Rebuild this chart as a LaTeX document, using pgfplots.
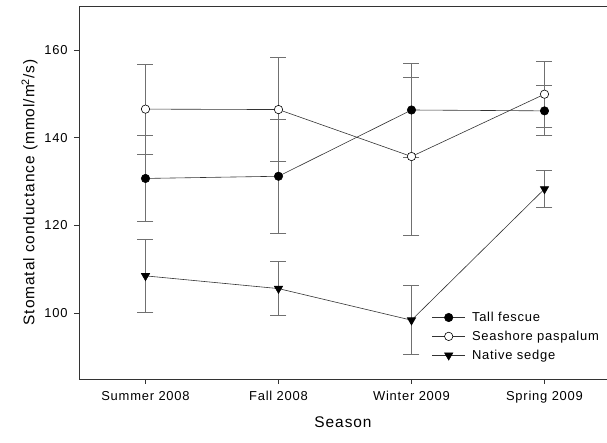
\documentclass[border=0pt]{standalone}
\usepackage{fontspec}
\setmainfont{Liberation Sans}[LetterSpace=6]
\usepackage{pgfplots}
\pgfplotsset{compat=1.18}
\usetikzlibrary{calc}
\definecolor{lgray}{HTML}{707070}
\definecolor{dgray}{HTML}{333333}
\begin{document}
\begin{tikzpicture}
\begin{axis}[
  scale only axis,
  width=528bp, height=373bp,
  xmin=-0.5, xmax=3.47,
  ymin=85, ymax=170,
  xtick={0,1,2,3},
  xticklabels={Summer 2008, Fall 2008, Winter 2009, Spring 2009},
  ytick={100,120,140,160},
  tick align=outside,
  tick pos=left,
  major tick length=5bp,
  axis line style={draw=dgray, line width=0.6pt},
  tick style={draw=dgray, line width=0.6pt},
  ticklabel style={font=\fontsize{13}{15}\selectfont},
  /pgf/number format/assume math mode=true,
  xticklabel style={yshift=-4bp},
  yticklabel style={xshift=-3bp},
  xlabel={Season},
  ylabel={Stomatal conductance (mmol/m\textsuperscript{2}/s)},
  label style={font=\fontsize{15.5}{17}\selectfont},
  xlabel style={yshift=-6bp},
  ylabel style={yshift=0bp},
  legend style={draw=none, fill=none, at={(0.668,0.18)}, anchor=north west,
    font=\fontsize{13}{15}\selectfont, row sep=8bp, inner sep=0pt,
    nodes={inner xsep=6.5bp, inner ysep=0pt}},
  legend cell align=left,
  every axis plot/.append style={line width=0.6pt, draw=dgray},
  legend image code/.code={
    \draw[#1, mark repeat=2, mark phase=2] plot coordinates {(0bp,0bp) (16.5bp,0bp) (33bp,0bp)};
  },
  clip=false,
]
\addplot[dgray, mark=*, mark size=4.2bp, mark options={fill=black, draw=black},
  error bars/.cd, y dir=both, y explicit,
  error bar style={lgray, line width=0.8pt},
  error mark options={lgray, line width=0.8pt, mark size=8bp, rotate=90}]
  coordinates {
  (0,130.7) +- (0,9.9)
  (1,131.2) +- (0,13.0)
  (2,146.3) +- (0,10.7)
  (3,146.1) +- (0,5.7)
};
\addlegendentry{Tall fescue}
\addplot[dgray, mark=*, mark size=4.2bp, mark options={fill=white, draw=black, line width=0.6pt},
  error bars/.cd, y dir=both, y explicit,
  error bar style={lgray, line width=0.8pt},
  error mark options={lgray, line width=0.8pt, mark size=8bp, rotate=90}]
  coordinates {
  (0,146.5) +- (0,10.3)
  (1,146.4) +- (0,11.8)
  (2,135.7) +- (0,18.0)
  (3,149.9) +- (0,7.5)
};
\addlegendentry{Seashore paspalum}
\addplot[dgray, mark=triangle*, mark size=4.8bp, mark options={fill=black, draw=black, rotate=180},
  error bars/.cd, y dir=both, y explicit,
  error bar style={lgray, line width=0.8pt},
  error mark options={lgray, line width=0.8pt, mark size=8bp, rotate=90}]
  coordinates {
  (0,108.5) +- (0,8.4)
  (1,105.6) +- (0,6.2)
  (2,98.4) +- (0,7.9)
  (3,128.3) +- (0,4.3)
};
\addlegendentry{Native sedge}
\end{axis}
\pgfresetboundingbox
\path[use as bounding box] ($(current axis.south west)+(-79bp,-64bp)$) rectangle ($(current axis.north east)+(0bp,6bp)$);
\end{tikzpicture}
\end{document}
